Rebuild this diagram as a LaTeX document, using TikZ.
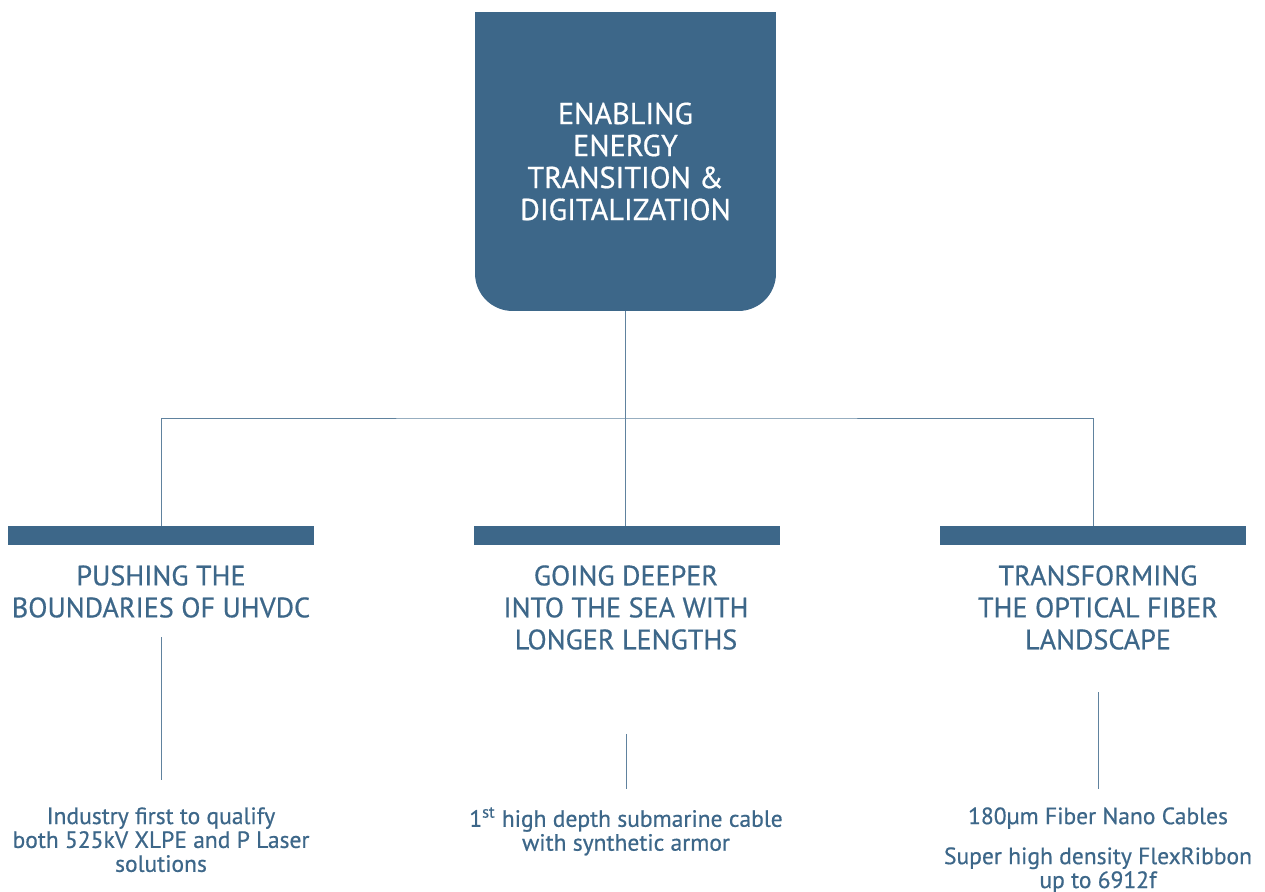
\documentclass[tikz,border=0pt]{standalone}
\usepackage{fontspec}
\setmainfont{PT Sans}
\newfontfamily\medfont{PT Sans}[FakeBold=0.6]
\usepackage{tikz}
\usetikzlibrary{positioning}
\definecolor{navy}{RGB}{61, 103, 137}
\definecolor{wire}{RGB}{96, 130, 158}

\begin{document}
\begin{tikzpicture}[x=0.02cm, y=-0.02cm,
    goalbox/.style={fill=navy, rounded corners=0.75cm, minimum width=6.02cm, minimum height=5.98cm, inner sep=0pt, text=white, align=center, font=\medfont\fontsize{17.2}{18.2}\selectfont},
    bar/.style={fill=navy, minimum width=6.12cm, minimum height=0.38cm, inner sep=0pt},
    head/.style={text=navy, align=center, anchor=north, inner sep=0pt, font=\medfont\fontsize{16}{18.2}\selectfont},
    note/.style={text=navy, align=center, anchor=north, inner sep=0pt, font=\medfont\fontsize{13.4}{13.6}\selectfont},
    link/.style={wire, line width=0.5pt}]
        \useasboundingbox (0,0) rectangle (1265,892);

        % Top box: square top, rounded bottom
        \fill[navy] (475,12) rectangle (776,160);
        \node[goalbox] (goal) at (625.5,161.5) {ENABLING\\ENERGY\\TRANSITION \&\\DIGITALIZATION};

        % Three bars
        \node[bar] (pushbar) at (161,535.5) {};
        \node[bar] (deepbar) at (627,535.5) {};
        \node[bar] (fiberbar) at (1093,535.5) {};

        % Tree lines
        \coordinate (hub) at (626,418);
        \draw[link] (goal.south) -- (goal.south |- deepbar.north);
        \draw[link] (pushbar.north) |- (hub) -| (fiberbar.north);

        % Headings
        \node[head] (pushhead) at (161,565) {PUSHING THE\\BOUNDARIES OF UHVDC};
        \node[head] (deephead) at (626,565) {GOING DEEPER\\INTO THE SEA WITH\\LONGER LENGTHS};
        \node[head] (fiberhead) at (1098,565) {TRANSFORMING\\THE OPTICAL FIBER\\LANDSCAPE};

        % Notes under each heading
        \node[note] (pushnote) at (161,807) {Industry first to qualify\\both 525kV XLPE and P Laser\\solutions};
        \node[note] (deepnote) at (626,807) {1\textsuperscript{st} high depth submarine cable\\with synthetic armor};
        \node[note] (nanonote) at (1098,807) {180µm Fiber Nano Cables};
        \node[note] (flexnote) at (1098,847) {Super high density FlexRibbon\\up to 6912f};

        \draw[link, shorten <=0.38cm, shorten >=0.54cm] (pushhead.south) -- (pushnote.north);
        \draw[link, shorten <=1.68cm, shorten >=0.36cm] (deephead.south) -- (deepnote.north);
        \draw[link, shorten <=0.84cm, shorten >=0.36cm] (fiberhead.south) -- (nanonote.north);
    \end{tikzpicture}
\end{document}
